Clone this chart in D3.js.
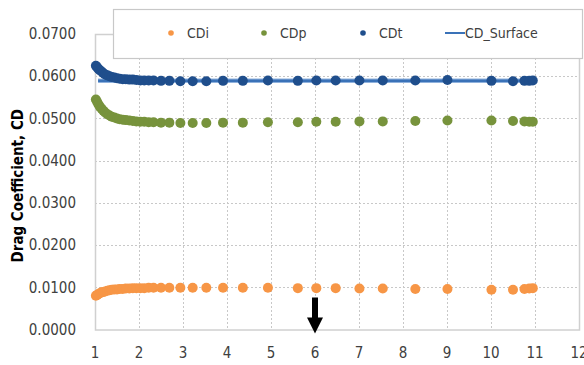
<!DOCTYPE html>
<html>
<head>
<meta charset="utf-8">
<title>Drag coefficient</title>
<script src="https://d3js.org/d3.v7.min.js"></script>
<style>
body { margin: 0; background: #fff; }
svg text { font-family: "DejaVu Sans Condensed", "DejaVu Sans", sans-serif; fill: #404040; }
.grid line { stroke: #c8c8c8; stroke-dasharray: 2,2; shape-rendering: crispEdges; }
.tick-label { font-size: 15px; }
.axis-title { font-size: 15px; font-weight: bold; fill: #000; }
.legend-label { font-size: 14px; }
</style>
</head>
<body>
<div id="chart"></div>
<script>
// span positions along the wing (x) and the three drag coefficients
var xVals = [1.02, 1.05, 1.08, 1.11, 1.15, 1.19, 1.23, 1.28, 1.33, 1.38, 1.44, 1.50, 1.56, 1.63, 1.70, 1.78,
             1.86, 1.94, 2.03, 2.12, 2.22, 2.33, 2.50, 2.69, 2.94, 3.22, 3.53, 3.91, 4.36, 4.93, 5.61, 6.03,
             6.47, 7.01, 7.54, 8.28, 9.01, 10.01, 10.50, 10.76, 10.87, 10.95];
var cdi = [0.0080, 0.0082, 0.0084, 0.0086, 0.0088, 0.0089, 0.0090, 0.0092, 0.0093, 0.0094, 0.0095, 0.0095, 0.0096, 0.0096, 0.0097, 0.0097,
           0.0098, 0.0098, 0.0098, 0.0098, 0.0099, 0.0099, 0.0099, 0.0099, 0.0099, 0.0099, 0.0099, 0.0099, 0.0099, 0.0099, 0.0098, 0.0098,
           0.0098, 0.0097, 0.0097, 0.0096, 0.0096, 0.0094, 0.0094, 0.0096, 0.0097, 0.0098];
var cdp = [0.0545, 0.0539, 0.0533, 0.0528, 0.0523, 0.0518, 0.0514, 0.0510, 0.0507, 0.0504, 0.0502, 0.0500, 0.0498, 0.0497, 0.0496, 0.0495,
           0.0494, 0.0493, 0.0492, 0.0492, 0.0491, 0.0491, 0.0490, 0.0490, 0.0489, 0.0489, 0.0489, 0.0490, 0.0490, 0.0491, 0.0491, 0.0492,
           0.0492, 0.0493, 0.0493, 0.0494, 0.0495, 0.0495, 0.0494, 0.0493, 0.0492, 0.0492];
var cdt = [0.0625, 0.0621, 0.0617, 0.0614, 0.0611, 0.0607, 0.0604, 0.0602, 0.0600, 0.0598, 0.0597, 0.0595, 0.0594, 0.0593, 0.0593, 0.0592,
           0.0592, 0.0591, 0.0590, 0.0590, 0.0590, 0.0590, 0.0589, 0.0589, 0.0588, 0.0588, 0.0588, 0.0589, 0.0589, 0.0590, 0.0589, 0.0590,
           0.0590, 0.0590, 0.0590, 0.0590, 0.0591, 0.0589, 0.0588, 0.0589, 0.0589, 0.0590];
var surfX = [1.07, 11.0];
var surfY = [0.0589, 0.0589];
var xTicks = [1, 2, 3, 4, 5, 6, 7, 8, 9, 10, 11, 12];
var yTicks = [0, 0.01, 0.02, 0.03, 0.04, 0.05, 0.06, 0.07];
var arrowAt = 6;
var legendNames = ["CDi", "CDp", "CDt", "CD_Surface"];

var colors = { cdi: "#f79646", cdp: "#77933c", cdt: "#1f4e8c", surf: "#3a72b8" };

var W = 584, H = 365;
var margin = { top: 34, right: 5, bottom: 35.5, left: 95 };
var width = W - margin.left - margin.right,
    height = H - margin.top - margin.bottom;

var svg = d3.select("#chart").append("svg").attr("width", W).attr("height", H);
var g = svg.append("g").attr("transform", "translate(" + margin.left + "," + margin.top + ")");

var x = d3.scaleLinear().domain([1, 12]).range([0, 484]);
var y = d3.scaleLinear().domain([0, 0.07]).range([height, 0]);

// grid
g.append("g").attr("class", "grid")
  .selectAll("line").data(xTicks.slice(1, -1)).enter().append("line")
  .attr("x1", function (d) { return Math.round(x(d)) + 0.5; })
  .attr("x2", function (d) { return Math.round(x(d)) + 0.5; })
  .attr("y1", 0).attr("y2", height);
g.append("g").attr("class", "grid")
  .selectAll("line").data(yTicks.slice(1)).enter().append("line")
  .attr("x1", 0).attr("x2", x(12))
  .attr("y1", function (d) { return Math.round(y(d)) + 0.5; })
  .attr("y2", function (d) { return Math.round(y(d)) + 0.5; });

// frame
g.append("rect")
  .attr("x", 0.5).attr("y", 0.5)
  .attr("width", x(12)).attr("height", height)
  .attr("fill", "none").attr("stroke", "#d0d0d0").attr("stroke-width", 1.5);

// tick labels
g.selectAll(".ylab").data(yTicks).enter().append("text")
  .attr("class", "tick-label")
  .attr("x", -19).attr("y", function (d) { return y(d); })
  .attr("dy", "0.35em").attr("text-anchor", "end")
  .text(function (d) { return d3.format(".4f")(d); });
g.selectAll(".xlab").data(xTicks).enter().append("text")
  .attr("class", "tick-label")
  .attr("x", function (d) { return x(d); }).attr("y", height + 23)
  .attr("dy", "0.35em").attr("text-anchor", "middle")
  .text(function (d) { return d; });

// axis title
svg.append("text").attr("class", "axis-title")
  .attr("transform", "translate(23," + (margin.top + height / 2 + 4) + ") rotate(-90)")
  .attr("text-anchor", "middle")
  .text("Drag Coefficient, CD");

// surface line
var line = d3.line().x(function (d) { return x(d[0]); }).y(function (d) { return y(d[1]); });
var surf = d3.zip(surfX, surfY);
g.append("path").datum(surf).attr("d", line)
  .attr("fill", "none").attr("stroke", "#8fb1dc").attr("stroke-width", 4.5);
g.append("path").datum(surf).attr("d", line)
  .attr("fill", "none").attr("stroke", colors.surf).attr("stroke-width", 2.5);

// point series
function dots(vals, col) {
  g.append("g").selectAll("circle").data(d3.zip(xVals, vals)).enter().append("circle")
    .attr("cx", function (d) { return x(d[0]); })
    .attr("cy", function (d) { return y(d[1]); })
    .attr("r", 5)
    .attr("fill", col);
}
dots(cdi, colors.cdi);
dots(cdp, colors.cdp);
dots(cdt, colors.cdt);

// arrow marker at x = 6
var ax = x(arrowAt);
var top0 = y(0) - 32, neck = y(0) - 12, tip = y(0) + 4;
g.append("path")
  .attr("d", "M" + (ax - 3) + "," + top0 + "L" + (ax + 3) + "," + top0 + "L" + (ax + 3) + "," + neck +
             "L" + (ax + 8) + "," + neck + "L" + ax + "," + tip + "L" + (ax - 8) + "," + neck +
             "L" + (ax - 3) + "," + neck + "Z")
  .attr("fill", "#000");

// legend
var lg = svg.append("g").attr("transform", "translate(113,9)");
lg.append("rect").attr("x", 0.5).attr("y", 0.5).attr("width", 469).attr("height", 49)
  .attr("fill", "#fff").attr("stroke", "#c8c8c8").attr("stroke-width", 1.2);
var legX = [58, 151, 250, 332];
var legCols = [colors.cdi, colors.cdp, colors.cdt, colors.surf];
legendNames.forEach(function (name, i) {
  var item = lg.append("g").attr("transform", "translate(" + legX[i] + ",24)");
  if (i < 3) {
    item.append("circle").attr("cx", 0).attr("cy", 0).attr("r", 2.8).attr("fill", legCols[i]);
    item.append("text").attr("class", "legend-label").attr("x", 16).attr("dy", "0.35em").text(name);
  } else {
    item.append("line").attr("x1", 0).attr("x2", 20).attr("y1", 0).attr("y2", 0)
      .attr("stroke", legCols[i]).attr("stroke-width", 2);
    item.append("text").attr("class", "legend-label").attr("x", 20).attr("dy", "0.35em").text(name);
  }
});
</script>
</body>
</html>
